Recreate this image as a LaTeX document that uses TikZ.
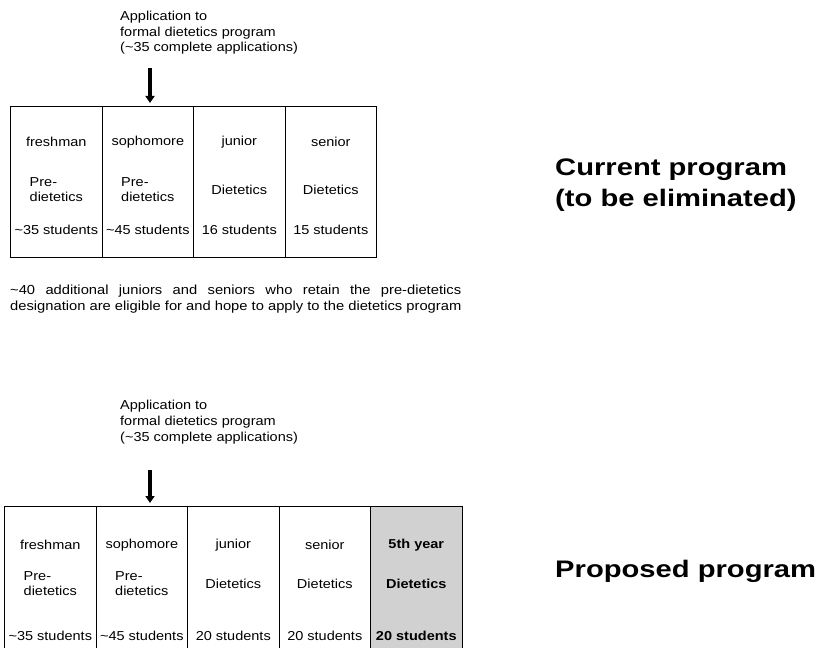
\documentclass[tikz,border=0pt]{standalone}
\usepackage{fontspec}
\setmainfont[FakeStretch=1.12]{Liberation Sans}
\newfontfamily\headfont[FakeStretch=1.22]{Liberation Sans}
\usetikzlibrary{arrows.meta,positioning}

\begin{document}
\begin{tikzpicture}[x=1bp,y=-1bp,
    cell/.style={draw,line width=1.1pt,minimum width=91.5bp,minimum height=151bp,
      inner sep=0pt,anchor=north west},
    extracell/.style={cell,fill=black!18},
    celltext/.style={font=\fontsize{13}{15}\selectfont,align=left,inner sep=0pt},
    boldtext/.style={celltext,font=\bfseries\fontsize{13}{15}\selectfont},
    notetext/.style={font=\fontsize{13}{15.5}\selectfont,align=left,inner sep=0pt,anchor=north west},
    heading/.style={font=\headfont\bfseries\fontsize{24}{31}\selectfont,align=left,inner sep=0pt,anchor=north west},
    apparrow/.style={line width=3.5bp,-{Triangle[width=9bp,length=7bp]},shorten >=3bp}]

    \useasboundingbox (0,0) rectangle (828,648);
    \begin{scope}
    \clip (0,0) rectangle (828,648);

    % --- upper part: current program ---
    \node[notetext] (app1) at (120,11) {Application to\\formal dietetics program\\(\textasciitilde35 complete applications)};

    \foreach \i/\xx/\yr/\prog/\num in {
        1/10/freshman/{Pre-\\dietetics}/{\textasciitilde35 students},
        2/101.5/sophomore/{Pre-\\dietetics}/{\textasciitilde45 students},
        3/193/junior/Dietetics/16 students,
        4/284.5/senior/Dietetics/15 students}{
      \node[cell] (cur\i) at (\xx,106) {};
      \node[celltext] (curyr\i) at ([yshift=-36bp]cur\i.north) {\yr};
      \node[celltext] (curprog\i) at ([yshift=-84bp]cur\i.north) {\prog};
      \node[celltext] (curnum\i) at ([yshift=-124bp]cur\i.north) {\num};
    }

    \coordinate (arr1) at (150,68);
    \draw[apparrow] (arr1) -- (arr1 |- cur2.north);

    \node[notetext,font=\fontsize{13.2}{16}\selectfont] (note1) at (10,285)
      {\makebox[451bp][s]{\textasciitilde40 additional juniors and seniors who retain the pre-dietetics}\\designation are eligible for and hope to apply to the dietetics program};

    \node[heading] (curlabel) at (555,159) {Current program\\(to be eliminated)};

    % --- lower part: proposed program ---
    \node[notetext,font=\fontsize{13}{16}\selectfont] (app2) at (120,400) {Application to\\formal dietetics program\\(\textasciitilde35 complete applications)};

    \foreach \i/\xx/\yr/\prog/\num in {
        1/4/freshman/{Pre-\\dietetics}/{\textasciitilde35 students},
        2/95.5/sophomore/{Pre-\\dietetics}/{\textasciitilde45 students},
        3/187/junior/Dietetics/20 students,
        4/278.5/senior/Dietetics/20 students}{
      \node[cell] (new\i) at (\xx,506) {};
      \node[celltext] (newyr\i) at ([yshift=-39bp]new\i.north) {\yr};
      \node[celltext] (newprog\i) at ([yshift=-78bp]new\i.north) {\prog};
      \node[celltext] (newnum\i) at ([yshift=-130bp]new\i.north) {\num};
    }
    \node[extracell] (new5) at (370,506) {};
    \node[boldtext] (newyr5) at ([yshift=-39bp]new5.north) {5th year};
    \node[boldtext] (newprog5) at ([yshift=-78bp]new5.north) {Dietetics};
    \node[boldtext] (newnum5) at ([yshift=-130bp]new5.north) {20 students};

    \coordinate (arr2) at (150,470);
    \draw[apparrow] (arr2) -- (arr2 |- new2.north);

    \node[heading] (newlabel) at (555,560) {Proposed program};
    \end{scope}
\end{tikzpicture}
\end{document}
